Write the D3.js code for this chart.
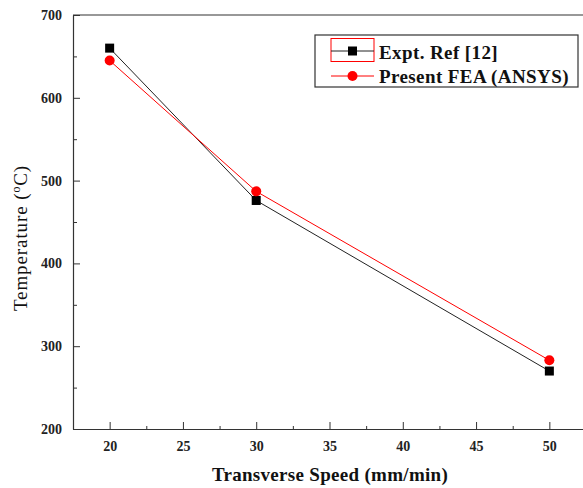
<!DOCTYPE html>
<html><head><meta charset="utf-8">
<script src="https://cdn.jsdelivr.net/npm/d3@7"></script>
<style>body{margin:0;background:#fff}svg{display:block}</style>
</head><body>
<script>
const speeds = [20, 30, 50];
const exptValues = [660, 476, 270];
const feaValues = [645, 487, 283];
const xTicks = [20, 25, 30, 35, 40, 45, 50];
const yTicks = [200, 300, 400, 500, 600, 700];
const seriesNames = ["Expt. Ref [12]", "Present FEA (ANSYS)"];

const W = 583, H = 488;
const svg = d3.select("body").append("svg").attr("width", W).attr("height", H);
const x = d3.scaleLinear().domain([17.5, 52.5]).range([73, 586]);
const y = d3.scaleLinear().domain([200, 700]).range([429, 15]);
const axisColor = "#333";
const font = "'Liberation Serif', 'Times New Roman', serif";

// frame top
svg.append("line").attr("x1", 73).attr("x2", W).attr("y1", 15).attr("y2", 15).attr("stroke", axisColor).attr("stroke-width", 1.2);

// minor ticks
const gx = svg.append("g").attr("transform", "translate(0,429)");
gx.call(d3.axisBottom(x).tickValues(d3.range(22.5, 52.5, 5)).tickSize(-3).tickFormat(""));
gx.call(g => g.selectAll(".tick line").attr("stroke", axisColor));
const gx2 = svg.append("g").attr("transform", "translate(0,429)");
gx2.call(d3.axisBottom(x).tickValues(xTicks).tickSizeInner(-7).tickSizeOuter(0).tickPadding(12));
gx2.select(".domain").attr("stroke", axisColor).attr("stroke-width", 1.2);
gx2.selectAll(".tick line").attr("stroke", axisColor);
gx2.selectAll("text").attr("font-family", font).attr("font-weight", "bold").attr("font-size", 14).attr("fill", "#222");

const gy = svg.append("g").attr("transform", "translate(73,0)");
gy.call(d3.axisLeft(y).tickValues(d3.range(250, 700, 100)).tickSize(-4).tickFormat(""));
gy.call(g => g.selectAll(".tick line").attr("stroke", axisColor));
const gy2 = svg.append("g").attr("transform", "translate(73,0)");
gy2.call(d3.axisLeft(y).tickValues(yTicks).tickSizeInner(-7).tickSizeOuter(0).tickPadding(11));
gy2.select(".domain").attr("stroke", axisColor).attr("stroke-width", 1.2);
gy2.selectAll(".tick line").attr("stroke", axisColor);
gy2.selectAll("text").attr("font-family", font).attr("font-weight", "bold").attr("font-size", 14).attr("fill", "#222");

// axis titles
svg.append("text").attr("x", 330).attr("y", 481).attr("text-anchor", "middle")
  .attr("font-family", font).attr("font-weight", "bold").attr("font-size", 19).attr("letter-spacing", 0.3).attr("fill", "#111")
  .text("Transverse Speed (mm/min)");
const yl = svg.append("text").attr("transform", "translate(27,238) rotate(-90)").attr("text-anchor", "middle")
  .attr("font-family", font).attr("font-size", 19).attr("letter-spacing", 0.9).attr("fill", "#111");
yl.append("tspan").text("Temperature (");
yl.append("tspan").attr("dy", -7).attr("font-size", 12).text("o");
yl.append("tspan").attr("dy", 7).text("C)");

// lines
const line = d3.line().x(d => x(d[0])).y(d => y(d[1]));
const expt = speeds.map((s, i) => [s, exptValues[i]]);
const fea = speeds.map((s, i) => [s, feaValues[i]]);
svg.append("path").datum(expt).attr("d", line).attr("fill", "none").attr("stroke", "#222").attr("stroke-width", 1);
svg.append("path").datum(fea).attr("d", line).attr("fill", "none").attr("stroke", "#f00").attr("stroke-width", 1);
svg.selectAll(".sq").data(expt).enter().append("rect")
  .attr("x", d => x(d[0]) - 4.5).attr("y", d => y(d[1]) - 4.5).attr("width", 9).attr("height", 9).attr("fill", "#000");
svg.selectAll(".ci").data(fea).enter().append("circle")
  .attr("cx", d => x(d[0])).attr("cy", d => y(d[1])).attr("r", 5).attr("fill", "#f00");

// legend
const lg = svg.append("g");
lg.append("rect").attr("x", 315).attr("y", 35).attr("width", 263).attr("height", 52).attr("fill", "#fff").attr("stroke", "#333").attr("stroke-width", 1.2);
lg.append("rect").attr("x", 331).attr("y", 38.5).attr("width", 43).attr("height", 23).attr("fill", "none").attr("stroke", "#f00").attr("stroke-width", 1);
lg.append("line").attr("x1", 331).attr("x2", 374).attr("y1", 51).attr("y2", 51).attr("stroke", "#222");
lg.append("rect").attr("x", 348).attr("y", 46.5).attr("width", 9).attr("height", 9).attr("fill", "#000");
lg.append("line").attr("x1", 331).attr("x2", 374).attr("y1", 76).attr("y2", 76).attr("stroke", "#f00");
lg.append("circle").attr("cx", 352.5).attr("cy", 76).attr("r", 5).attr("fill", "#f00");
lg.selectAll(".lt").data(seriesNames).enter().append("text")
  .attr("x", 379).attr("y", (d, i) => 58.5 + i * 24.5)
  .attr("font-family", font).attr("font-weight", "bold").attr("font-size", 19).attr("letter-spacing", 0.4).attr("fill", "#111")
  .text(d => d);
</script>
</body></html>
